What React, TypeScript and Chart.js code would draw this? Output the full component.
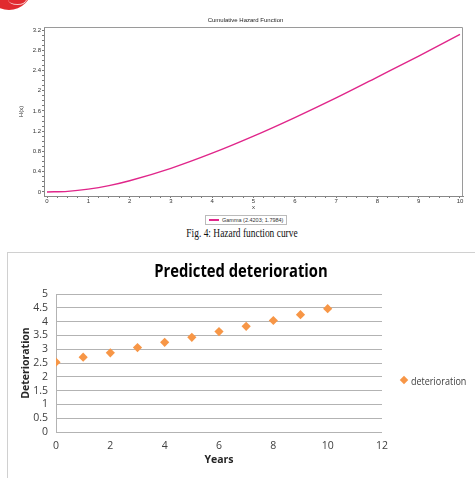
import React, { useEffect, useRef } from "react";
import { Chart, registerables } from "chart.js";

Chart.register(...registerables);

// ---- Top chart: cumulative hazard (Gamma 2.4203; 1.7984) ----
const hazardX = [0, 0.5, 1, 1.5, 2, 3, 4, 5, 6, 7, 8, 9, 10];
const hazardY = [0, 0.012, 0.055, 0.125, 0.222, 0.467, 0.766, 1.103, 1.47, 1.859, 2.271, 2.685, 3.114];
const hazardXTicks = [0, 1, 2, 3, 4, 5, 6, 7, 8, 9, 10];
const hazardYTicks = [0, 0.4, 0.8, 1.2, 1.6, 2, 2.4, 2.8, 3.2];
const hazardYTickLabels = ["0", "0.4", "0.8", "1.2", "1.6", "2", "2.4", "2.8", "3.2"];
const hazardLegend = "Gamma (2.4203; 1.7984)";

// ---- Bottom chart: predicted deterioration ----
const years = [0, 1, 2, 3, 4, 5, 6, 7, 8, 9, 10];
const deterioration = [2.53, 2.71, 2.87, 3.06, 3.25, 3.43, 3.64, 3.83, 4.04, 4.25, 4.47];
const detYTicks = [0, 0.5, 1, 1.5, 2, 2.5, 3, 3.5, 4, 4.5, 5];
const detYTickLabels = ["0", "0.5", "1", "1.5", "2", "2.5", "3", "3.5", "4", "4.5", "5"];
const detXTicks = [0, 2, 4, 6, 8, 10, 12];

const SANS = "'Liberation Sans', 'DejaVu Sans', sans-serif";
const NARROW = "'Open Sans', 'Liberation Sans', sans-serif";

function HazardChart() {
  const ref = useRef<HTMLCanvasElement>(null);
  useEffect(() => {
    const boxPlugin = {
      id: "box",
      afterDraw(chart: any) {
        const { ctx, chartArea: a } = chart;
        ctx.save();
        ctx.strokeStyle = "#9a9a9a";
        ctx.lineWidth = 1;
        ctx.beginPath();
        ctx.moveTo(a.left, a.top + 0.5);
        ctx.lineTo(a.right - 0.5, a.top + 0.5);
        ctx.lineTo(a.right - 0.5, a.bottom);
        ctx.stroke();
        ctx.restore();
      },
    };
    const isIn = (v: number, arr: number[]) => arr.some((t) => Math.abs(t - v) < 1e-6);
    const chart = new Chart(ref.current!, {
      type: "line",
      data: {
        datasets: [
          {
            label: hazardLegend,
            data: hazardX.map((x, i) => ({ x, y: hazardY[i] })),
            borderColor: "#e0268a",
            borderWidth: 1.4,
            pointRadius: 0,
            cubicInterpolationMode: "monotone",
            fill: false,
          },
        ],
      },
      options: {
        animation: false,
        responsive: false,
        events: [],
        layout: { padding: { top: 27, right: 12, left: 0, bottom: 0 } },
        plugins: { legend: { display: false }, title: { display: false }, tooltip: { enabled: false } },
        scales: {
          x: {
            type: "linear",
            min: -0.073,
            max: 10.073,
            afterBuildTicks: (s: any) => {
              const t = [];
              for (let v = 0; v <= 10.0001; v += 0.25) t.push({ value: Math.round(v * 100) / 100 });
              s.ticks = t;
            },
            afterFit: (s: any) => {
              s.height = 18;
            },
            grid: { drawOnChartArea: false, drawTicks: true, tickLength: 2, color: "#777" },
            border: { color: "#888" },
            ticks: {
              autoSkip: false,
              maxRotation: 0,
              padding: 0,
              color: "#333",
              font: { family: SANS, size: 6 },
              callback: (v: any) => (isIn(Number(v), hazardXTicks) ? String(v) : ""),
            },
            title: { display: true, text: "x", color: "#333", font: { family: SANS, size: 6 }, padding: { top: 0, bottom: 3 } },
          },
          y: {
            type: "linear",
            min: -0.08,
            max: 3.26,
            afterBuildTicks: (s: any) => {
              const t = [];
              for (let v = 0; v <= 3.2001; v += 0.1) t.push({ value: Math.round(v * 10) / 10 });
              s.ticks = t;
            },
            afterFit: (s: any) => {
              s.width = 44;
            },
            grid: { drawOnChartArea: false, drawTicks: true, tickLength: 2, color: "#777" },
            border: { color: "#888" },
            ticks: {
              autoSkip: false,
              padding: 1,
              color: "#333",
              font: { family: SANS, size: 6 },
              callback: (v: any) => {
                const i = hazardYTicks.findIndex((t) => Math.abs(t - Number(v)) < 1e-6);
                return i >= 0 ? hazardYTickLabels[i] : "";
              },
            },
            title: { display: true, text: "H(x)", color: "#333", font: { family: SANS, size: 6 }, padding: { top: 18, bottom: 0 } },
          },
        },
      },
      plugins: [boxPlugin],
    } as any);
    return () => chart.destroy();
  }, []);
  return <canvas ref={ref} width={475} height={214} style={{ position: "absolute", left: 0, top: 0, width: 475, height: 214 }} />;
}

function DeteriorationChart() {
  const ref = useRef<HTMLCanvasElement>(null);
  useEffect(() => {
    const chart = new Chart(ref.current!, {
      type: "scatter",
      data: {
        datasets: [
          {
            label: "deterioration",
            data: years.map((x, i) => ({ x, y: deterioration[i] })),
            backgroundColor: "#f79646",
            borderColor: "#f79646",
            pointStyle: "rectRot",
            pointRadius: 4.6,
            borderWidth: 0,
          },
        ],
      },
      options: {
        animation: false,
        responsive: false,
        events: [],
        layout: { padding: { top: 42, right: 93, left: 0, bottom: 7 } },
        plugins: { legend: { display: false }, title: { display: false }, tooltip: { enabled: false } },
        scales: {
          x: {
            type: "linear",
            min: 0,
            max: 12,
            afterBuildTicks: (s: any) => {
              s.ticks = detXTicks.map((value) => ({ value }));
            },
            afterFit: (s: any) => {
              s.height = 39;
            },
            grid: { display: false },
            border: { display: false },
            ticks: { padding: 0, autoSkip: false, maxRotation: 0, color: "#404040", font: { family: NARROW, size: 10.5 } },
            title: {
              display: true,
              text: "Years",
              color: "#262626",
              font: { family: NARROW, size: 10.5, weight: "bold" },
              padding: { top: 4, bottom: 5 },
            },
          },
          y: {
            type: "linear",
            min: 0,
            max: 5,
            afterBuildTicks: (s: any) => {
              s.ticks = detYTicks.map((value) => ({ value }));
            },
            afterFit: (s: any) => {
              s.width = 49;
            },
            grid: { color: "#b3b3b3", lineWidth: 1, drawTicks: false },
            border: { color: "#b3b3b3" },
            ticks: {
              padding: 8,
              autoSkip: false,
              color: "#404040",
              font: { family: NARROW, size: 10.5 },
              callback: (v: any) => {
                const i = detYTicks.findIndex((t) => Math.abs(t - Number(v)) < 1e-6);
                return i >= 0 ? detYTickLabels[i] : "";
              },
            },
            title: {
              display: true,
              text: "Deterioration",
              color: "#262626",
              font: { family: NARROW, size: 10.5, weight: "bold" },
              padding: { top: 13, bottom: 0 },
            },
          },
        },
      },
    } as any);
    return () => chart.destroy();
  }, []);
  return <canvas ref={ref} width={468} height={226} style={{ position: "absolute", left: 7, top: 252, width: 468, height: 226 }} />;
}

export default function App() {
  return (
    <div style={{ position: "fixed", left: 0, top: 0, width: 475, height: 478, overflow: "hidden", background: "#fff" }}>
      {/* logo fragment */}
      <div style={{ position: "absolute", left: -14, top: -36, width: 46, height: 46, borderRadius: "50%", background: "#e12a2f" }} />
      <div style={{ position: "absolute", left: 8, top: -6, width: 18, height: 10, borderRadius: "50%", border: "1px solid #f6c2c2", borderLeft: "none", borderTop: "none" }} />

      <HazardChart />
      <div style={{ position: "absolute", left: 0, width: 475, top: 17, textAlign: "center", fontFamily: SANS, fontSize: 6, color: "#222", paddingLeft: 8 }}>
        Cumulative Hazard Function
      </div>
      <div
        style={{
          position: "absolute",
          left: 205,
          top: 215,
          height: 8,
          padding: "0 3px",
          border: "1px solid #bbb",
          display: "flex",
          alignItems: "center",
          fontFamily: SANS,
          fontSize: 5.5,
          color: "#333",
          whiteSpace: "nowrap",
        }}
      >
        <span style={{ display: "inline-block", width: 10, height: 1.5, background: "#e0268a", marginRight: 3 }} />
        {hazardLegend}
      </div>
      <div
        style={{
          position: "absolute",
          left: 0,
          width: 484,
          top: 227,
          textAlign: "center",
          fontFamily: "'Liberation Serif', 'DejaVu Serif', serif",
          fontSize: 11.5,
          color: "#111",
          transform: "scaleX(0.82)",
          transformOrigin: "242px 0",
          whiteSpace: "nowrap",
        }}
      >
        Fig. 4: Hazard function curve
      </div>

      {/* bottom chart frame */}
      <div style={{ position: "absolute", left: 7, top: 252, width: 480, height: 240, border: "1px solid #d0d0d0", boxSizing: "border-box" }} />
      <DeteriorationChart />
      <div
        style={{
          position: "absolute",
          left: 0,
          width: 482,
          top: 258,
          textAlign: "center",
          fontFamily: NARROW,
          fontWeight: "bold",
          fontSize: 18,
          color: "#000",
          whiteSpace: "nowrap",
          transform: "scaleX(0.82)",
          transformOrigin: "241px 0",
        }}
      >
        Predicted deterioration
      </div>
      <div style={{ position: "absolute", left: 401, top: 377, width: 6, height: 6, background: "#f79646", transform: "rotate(45deg)" }} />
      <div
        style={{
          position: "absolute",
          left: 411,
          top: 373,
          fontFamily: NARROW,
          fontSize: 11,
          color: "#404040",
          whiteSpace: "nowrap",
          transform: "scaleX(0.82)",
          transformOrigin: "0 0",
        }}
      >
        deterioration
      </div>
    </div>
  );
}
